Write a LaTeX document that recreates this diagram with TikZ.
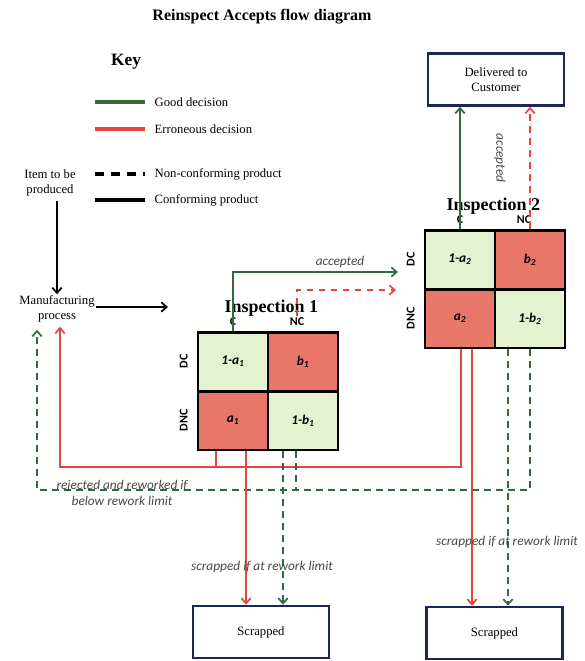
\documentclass[tikz,border=0pt]{standalone}
\usepackage{fontspec}
\setmainfont{Liberation Serif}
\newfontfamily\cellfont{Carlito}
\usetikzlibrary{calc,arrows.meta}

\begin{document}
\begin{tikzpicture}[x=0.75pt,y=-0.75pt,font=\fontsize{9.5}{11}\selectfont,
    good/.style={draw=goodgreen,line width=1.3pt},
    bad/.style={draw=badred,line width=1.3pt},
    keync/.style={draw=black,dash pattern=on 7pt off 5pt},
    keyc/.style={draw=black},
    ncp/.style={dash pattern=on 5pt off 4pt},
    tip/.style={-{Straight Barb[length=4pt,width=7pt]}},
    endbox/.style={draw=boxnavy,line width=1.9pt,minimum width=102pt,minimum height=39pt,align=center},
    okcell/.style={fill=cellgreen,draw=black,line width=2pt,minimum width=52.5pt,minimum height=44pt,
      font=\cellfont\bfseries\itshape\fontsize{10}{12}\selectfont},
    errcell/.style={okcell,fill=cellred},
    axlab/.style={font=\cellfont\bfseries\fontsize{9}{10}\selectfont,inner sep=1pt},
    note/.style={font=\cellfont\itshape\fontsize{10}{12}\selectfont,text=black!72},
    heading/.style={font=\bfseries\fontsize{12}{14}\selectfont}]
    \definecolor{goodgreen}{HTML}{2F6B3C}
    \definecolor{badred}{HTML}{E5463A}
    \definecolor{cellgreen}{HTML}{E4F2D0}
    \definecolor{cellred}{HTML}{E8776A}
    \definecolor{boxnavy}{HTML}{1E2559}
    \useasboundingbox (0,0) rectangle (585,661);
    \node[heading] (title) at (262,17) {Reinspect Accepts flow diagram};
    \node[heading,font=\bfseries\fontsize{13}{15}\selectfont] (key) at (126,62) {Key};
    \foreach \y/\sty/\lab in {102/good/Good decision, 129/bad/Erroneous decision,
      174/keync/Non-conforming product, 200/keyc/Conforming product} {
      \draw[\sty,line width=2.6pt] (95,\y) -- (145,\y);
      \node[anchor=west] (key\y) at (150,\y) {\lab};
    }
    \node[align=center] (item) at (50,183) {Item to be\\produced};
    \node[align=center,inner sep=1pt] (mfg) at (57,309) {Manufacturing\\process};
    \node[endbox] (deliv) at (496,79.5) {Delivered to\\Customer};
    \node[endbox] (scr1) at (261,632) {Scrapped};
    \node[endbox] (scr2) at (494.5,633) {Scrapped};
    \foreach \k/\cx/\cy/\dx in {1/268/391/2, 2/495/289/-3} {
      \node[okcell] (i\k aa) at (\cx-35,\cy-29.5) {1-a\textsubscript{\k}};
      \node[errcell] (i\k b) at (\cx+35,\cy-29.5) {b\textsubscript{\k}};
      \node[errcell] (i\k a) at (\cx-35,\cy+29.5) {a\textsubscript{\k}};
      \node[okcell] (i\k bb) at (\cx+35,\cy+29.5) {1-b\textsubscript{\k}};
      \node[axlab] (i\k c) at ($(i\k aa.north)+(0,-9)$) {C};
      \node[axlab] (i\k nc) at ($(i\k b.north)+(-6,-9)$) {NC};
      \node[axlab,rotate=90] (i\k dc) at ($(i\k aa.west)+(-13,0)$) {DC};
      \node[axlab,rotate=90] (i\k dnc) at ($(i\k a.west)+(-13,0)$) {DNC};
      \node[heading,font=\bfseries\fontsize{13.5}{15}\selectfont] (i\k t) at ($(i\k aa.north east)+(\dx,-23)$) {Inspection \k};
    }
    \coordinate (toinsp) at (168,307);
    \coordinate (acc1) at (398,272);
    \coordinate (acc2) at (396,290);
    \coordinate (redrun) at (0,467);
    \coordinate (greenrun) at (0,490);
    \coordinate (r1) at ($(i1a.south)+(-17,0)$);
    \coordinate (r2) at ($(i2a.south)+(1,0)$);
    \coordinate (s1) at ($(i1a.south)+(13,0)$);
    \coordinate (s2) at ($(i2a.south)+(12,0)$);
    \coordinate (g1) at ($(i1bb.south)+(-20,0)$);
    \coordinate (l1) at ($(i1bb.south)+(-7,0)$);
    \coordinate (g2) at ($(i2bb.south)+(-22,0)$);
    \coordinate (l2) at (i2bb.south);
    \coordinate (mfgr) at ($(mfg.south)+(3,3)$);
    \coordinate (mfgg) at ($(mfg.south)+(-20,6)$);
    \draw[line width=1.3pt,tip] (mfg.north |- item.south) -- (mfg.north);
    \draw[line width=1.3pt,tip] (mfg.east |- toinsp) -- (toinsp);
    \draw[good,tip] (i1aa.north) |- (acc1);
    \draw[bad,ncp,tip] (i1nc.north) |- (acc2);
    \node[note] (acclab1) at (340,262) {accepted};
    \draw[good,tip] (i2aa.north) -- (i2aa.north |- deliv.south);
    \draw[bad,ncp,tip] (i2b.north) -- (i2b.north |- deliv.south);
    \node[note,rotate=-90] (acclab2) at (500,158) {accepted};
    \draw[bad,tip] (r2) |- (mfgr |- redrun) -- (mfgr);
    \draw[bad] (r1) -- (r1 |- redrun);
    \draw[good,ncp,tip] (l2) |- (mfgg |- greenrun) -- (mfgg);
    \draw[good,ncp] (l1) -- (l1 |- greenrun);
    \draw[bad,tip] (s1) -- (s1 |- scr1.north);
    \draw[good,ncp,tip] (g1) -- (g1 |- scr1.north);
    \draw[bad,tip] (s2) -- (s2 |- scr2.north);
    \draw[good,ncp,tip] (g2) -- (g2 |- scr2.north);
    \node[note,align=center] (rework) at (122,493) {rejected and reworked if\\below rework limit};
    \node[note] (scrlab1) at (262,567) {scrapped if at rework limit};
    \node[note] (scrlab2) at (507,542) {scrapped if at rework limit};
  \end{tikzpicture}
\end{document}
